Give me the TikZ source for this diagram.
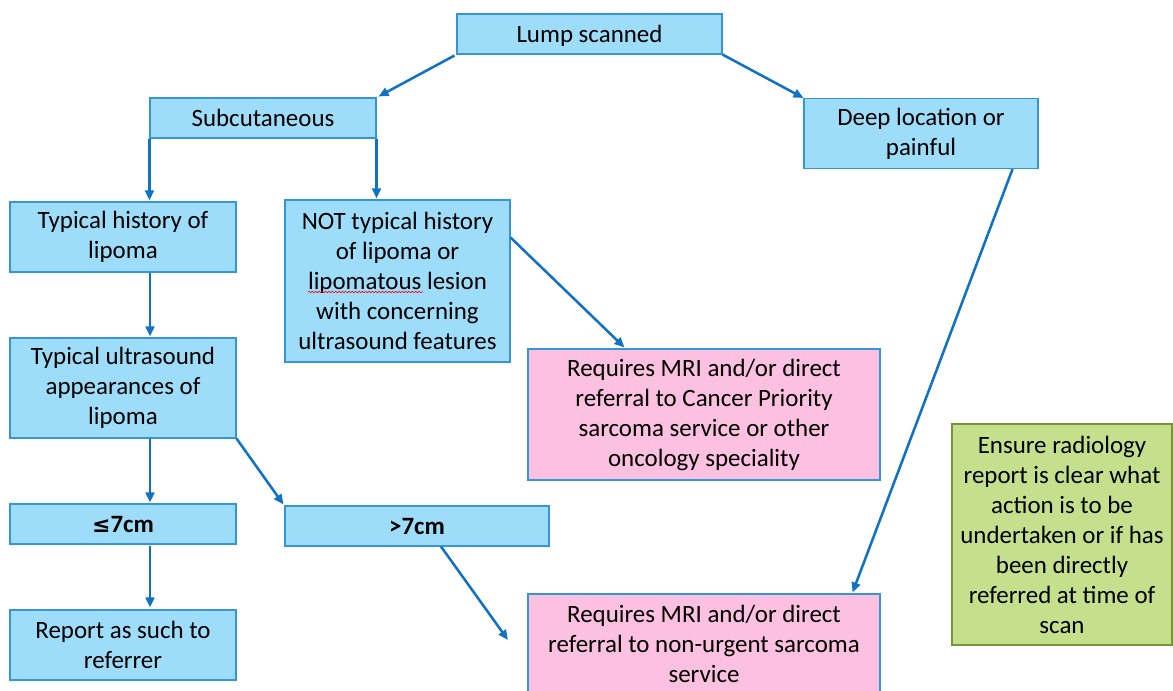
\documentclass[tikz,border=0pt]{standalone}
\usepackage{fontspec}
\setmainfont{Carlito}
\newfontfamily\symfont{DejaVu Sans}
\usetikzlibrary{arrows.meta,calc,decorations.pathmorphing}
\definecolor{bfill}{RGB}{158,221,250}
\definecolor{bline}{RGB}{52,150,215}
\definecolor{pfill}{RGB}{252,192,224}
\definecolor{gfill}{RGB}{196,224,140}
\definecolor{gline}{RGB}{119,147,60}
\definecolor{arr}{RGB}{16,114,196}
\begin{document}
\begin{tikzpicture}[x=0.75pt,y=-0.75pt,
  box/.style 2 args={draw=bline,line width=0.8pt,fill=bfill,minimum width=#1*0.75pt,minimum height=#2*0.75pt,inner sep=0pt,align=center,font=\fontsize{18.7}{22.5}\selectfont},
  oneline/.style={execute at begin node={\rule{0pt}{17.5pt}},execute at end node={\rule[-4.4pt]{0pt}{0pt}}},
  pbox/.style 2 args={box={#1}{#2},fill=pfill},
  gbox/.style 2 args={box={#1}{#2},fill=gfill,draw=gline},
  conn/.style={draw=arr,line width=1.9pt,-{Triangle[length=7.5pt,width=6.5pt]}}]
\useasboundingbox (0,0) rectangle (1173,690);
\fill[white] (0,0) rectangle (1173,690);

\node[box={265}{40},oneline] (lump) at (589.5,34) {Lump scanned};
\node[box={226}{40},oneline] (sub) at (263,118) {Subcutaneous};
\node[box={234}{70}] (deep) at (921,133.5) {Deep location or\\painful};
\node[box={226}{70}] (typ) at (123,237) {Typical history of\\lipoma};
\node[box={225}{162}] (nt) at (397.5,281) {NOT typical history\\of lipoma or\\lipomatous lesion\\with concerning\\ultrasound features};
\node[box={226}{100}] (us) at (123,388) {Typical ultrasound\\appearances of\\lipoma};
\node[pbox={352}{131}] (mri1) at (704,414.5) {Requires MRI and/or direct\\referral to Cancer Priority\\sarcoma service or other\\oncology speciality};
\node[box={226}{40},oneline] (le7) at (123,524) {\textbf{{\symfont\fontsize{16.5}{20}\selectfont ≤}7cm}};
\node[box={264}{40},oneline] (gt7) at (417,526) {\textbf{>7cm}};
\node[box={226}{70}] (rep) at (123,645) {Report as such to\\referrer};
\node[pbox={352}{100}] (mri2) at (704,644) {Requires MRI and/or direct\\referral to non-urgent sarcoma\\service};
\node[gbox={220}{221}] (note) at (1062,534.5) {Ensure radiology\\report is clear what\\action is to be\\undertaken or if has\\been directly\\referred at time of\\scan};

\draw[red,line width=0.5pt,decorate,decoration={snake,segment length=2.5pt,amplitude=0.5pt}] (308,292) -- (423,292);

\coordinate (free) at (508,640);
\draw[conn] ($(lump.south west)+(-2,1)$) -- ($(sub.north east)+(2,-1)$);
\draw[conn] (lump.south east) -- (deep.north west);
\draw[conn] (sub.south west) -- ($(sub.south west |- typ.north)+(0,-1)$);
\draw[conn] (sub.south east) -- ($(sub.south east |- nt.north)+(0,-1)$);
\draw[conn] ($(typ.south)+(27,0)$) -- ($(us.north)+(27,-1)$);
\draw[conn] ($(us.south)+(27,0)$) -- ($(le7.north)+(27,-1)$);
\draw[conn] (us.south east) -- ($(gt7.north west)+(-1,-1)$);
\draw[conn] ($(le7.south)+(27,1)$) -- ($(rep.north)+(27,-2)$);
\draw[conn] ($(nt.north east)+(0,38)$) -- ($(mri1.north west)+(97,-1)$);
\draw[conn] ($(gt7.south)+(24,0)$) -- (free);
\draw[conn] ($(deep.south east)+(-26,0)$) -- ($(mri2.north east)+(-28,-1)$);
\end{tikzpicture}
\end{document}
